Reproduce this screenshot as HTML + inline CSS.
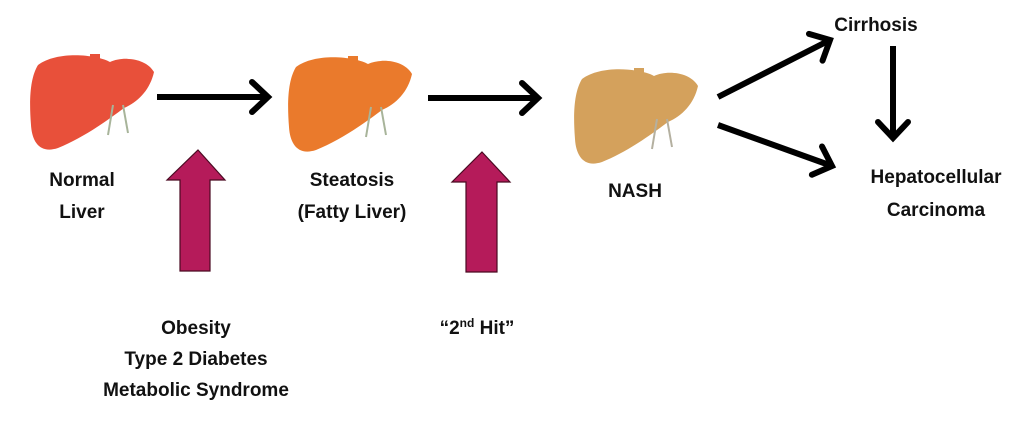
<!DOCTYPE html>
<html><head><meta charset="utf-8"><style>
body{margin:0;background:#fff;}
svg text{font-family:"Liberation Sans",sans-serif;font-weight:bold;font-size:19px;fill:#111;text-anchor:middle;}
</style></head><body>
<svg width="1024" height="422" viewBox="0 0 1024 422" xmlns="http://www.w3.org/2000/svg">
<defs>
<path id="lv" d="M10,15 C30,0 70,5 82,12 C95,6 118,8 126,22 C122,40 110,52 96,58 C80,70 55,88 30,98 C12,104 4,92 3,75 C1,50 2,28 10,15 Z"/>
<marker id="ah" markerWidth="24" markerHeight="38" refX="19" refY="19" orient="auto" markerUnits="userSpaceOnUse">
<path d="M3,4 L19,19 L3,34" fill="none" stroke="#000" stroke-width="6" stroke-linecap="round"/></marker>
</defs>
<g transform="translate(28,50)"><use href="#lv" fill="#e8503a"/><path d="M62,4 h10 v14 h-10z" fill="#e8503a"/><path d="M85,55 l-5,30 M95,55 l5,28" stroke="#a8b49a" stroke-width="2"/></g>
<g transform="translate(286,52)"><use href="#lv" fill="#ea7a2c"/><path d="M62,4 h10 v14 h-10z" fill="#ea7a2c"/><path d="M85,55 l-5,30 M95,55 l5,28" stroke="#a8b49a" stroke-width="2"/></g>
<g transform="translate(572,64)"><use href="#lv" fill="#d4a15c"/><path d="M62,4 h10 v14 h-10z" fill="#d4a15c"/><path d="M85,55 l-5,30 M95,55 l5,28" stroke="#b4b0a0" stroke-width="2"/></g>
<g stroke="#000" stroke-width="6" fill="none" marker-end="url(#ah)">
<line x1="157" y1="97" x2="268" y2="97"/>
<line x1="428" y1="98" x2="538" y2="98"/>
<line x1="718" y1="97" x2="830" y2="40"/>
<line x1="718" y1="125" x2="832" y2="166"/>
<line x1="893" y1="46" x2="893" y2="138"/>
</g>
<path d="M198,150 L225,180 L210,180 L210,271 L180,271 L180,180 L167,180 Z" fill="#b51b5a" stroke="#4a0a22" stroke-width="1.2"/>
<path d="M482,152 L510,182 L497,182 L497,272 L466,272 L466,182 L452,182 Z" fill="#b51b5a" stroke="#4a0a22" stroke-width="1.2"/>
<text x="82" y="186">Normal</text><text x="82" y="218">Liver</text>
<text x="352" y="186">Steatosis</text><text x="352" y="218">(Fatty Liver)</text>
<text x="635" y="197">NASH</text>
<text x="876" y="31">Cirrhosis</text>
<text x="936" y="183">Hepatocellular</text><text x="936" y="216">Carcinoma</text>
<text x="196" y="334">Obesity</text><text x="196" y="365">Type 2 Diabetes</text><text x="196" y="396">Metabolic Syndrome</text>
<text x="477" y="334">“2<tspan font-size="12" dy="-7">nd</tspan><tspan dy="7"> Hit”</tspan></text>
</svg>
</body></html>
